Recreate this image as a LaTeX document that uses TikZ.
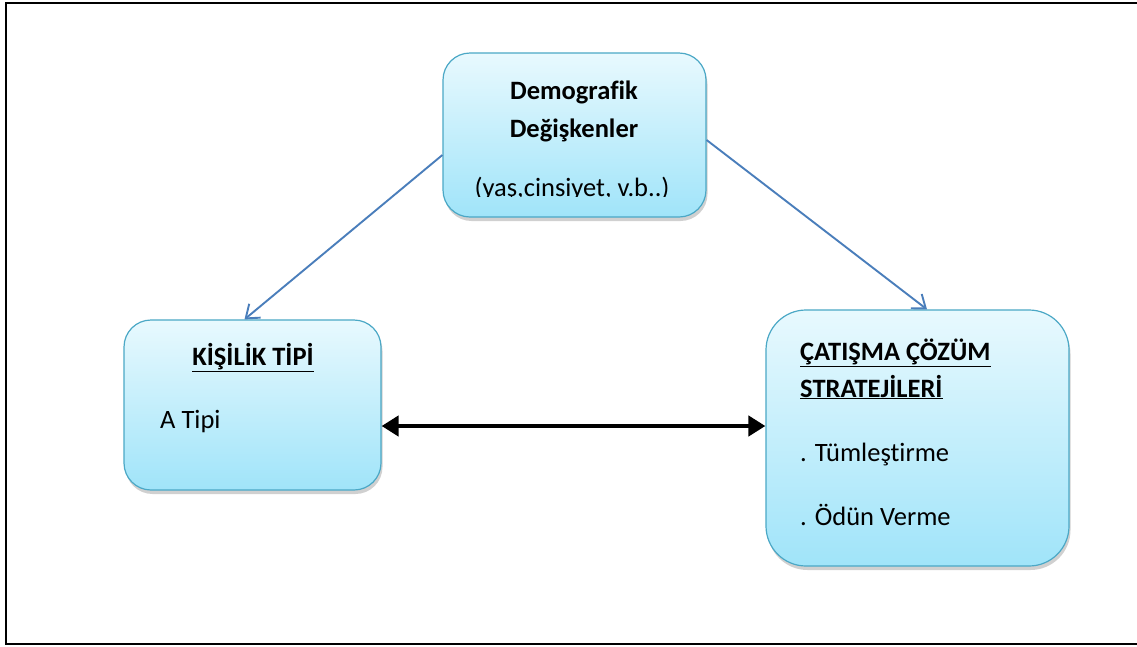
\documentclass[tikz,border=0pt]{standalone}
\usepackage{fontspec}
\setmainfont{Carlito}[Ligatures={NoCommon}]
\usetikzlibrary{arrows.meta,shadows,calc}
\definecolor{boxtop}{RGB}{232,249,254}
\definecolor{boxbot}{RGB}{160,228,249}
\definecolor{boxedge}{RGB}{75,168,198}
\definecolor{linkblue}{RGB}{74,126,187}
\newcommand{\uln}[1]{\underline{#1}}
\tikzset{
  rbox/.style={draw=boxedge, line width=1.2pt, top color=boxtop, bottom color=boxbot,
    drop shadow={shadow xshift=1.5pt, shadow yshift=-4pt, opacity=0.3, fill=black!60},
    inner sep=0pt},
  txt/.style={font=\fontsize{26.5}{31}\selectfont, inner sep=0pt, text=black},
  btxt/.style={txt, font=\fontsize{26.5}{31}\selectfont\bfseries},
  bluelink/.style={draw=linkblue, line width=1.9pt, -{Straight Barb[length=12pt, width=18pt, line width=1.9pt]}},
  blacklink/.style={draw=black, line width=4.5pt, {Triangle[length=17pt, width=20pt]}-{Triangle[length=17pt, width=20pt]}},
  frame/.style={draw=black, line width=2pt}
}
\begin{document}
\begin{tikzpicture}[x=1pt, y=-1pt]
\useasboundingbox (0,0) rectangle (1137,646);
\clip (0,0) rectangle (1137,646);
\fill[white] (0,0) rectangle (1137,646);
\draw[frame] (1150,3) -- (6,3) -- (6,644) -- (1150,644);

\node[rbox, rounded corners=27pt, minimum width=263pt, minimum height=164pt] (demo) at (574.5,135) {};
\node[rbox, rounded corners=27pt, minimum width=257pt, minimum height=170pt] (kisi) at (252.5,405) {};
\node[rbox, rounded corners=40pt, minimum width=303pt, minimum height=256pt] (cat) at (917.5,438) {};

\node[btxt, anchor=base] (d1) at (574,99) {Demografik};
\node[btxt, anchor=base] (d2) at (574,137) {Değişkenler};
\begin{scope}
\clip (450,160) rectangle (700,196.5);
\node[txt, anchor=base] (d3) at (572,196) {(yaş,cinsiyet, v.b..)};
\end{scope}

\node[btxt, anchor=base] (k1) at (253,365) {\uln{KİŞİLİK TİPİ}};
\node[txt, anchor=base west] (k2) at (160,428) {A Tipi};

\node[btxt, anchor=base west] (c1) at (800,360) {\uln{ÇATIŞMA ÇÖZÜM}};
\node[btxt, anchor=base west] (c2) at (800,397) {\uln{STRATEJİLERİ}};
\node[txt, anchor=base west] (c3) at (800,461) {. Tümleştirme};
\node[txt, anchor=base west] (c4) at (800,525) {. Ödün Verme};

\draw[bluelink] ([yshift=-20pt]demo.west) -- ([xshift=-8pt]kisi.north);
\draw[bluelink] ([yshift=-5pt]demo.east) -- ([xshift=9.5pt]cat.north);
\draw[blacklink] ([yshift=-21pt]kisi.east) -- ([yshift=-21pt]kisi.east -| cat.west);
\end{tikzpicture}
\end{document}
